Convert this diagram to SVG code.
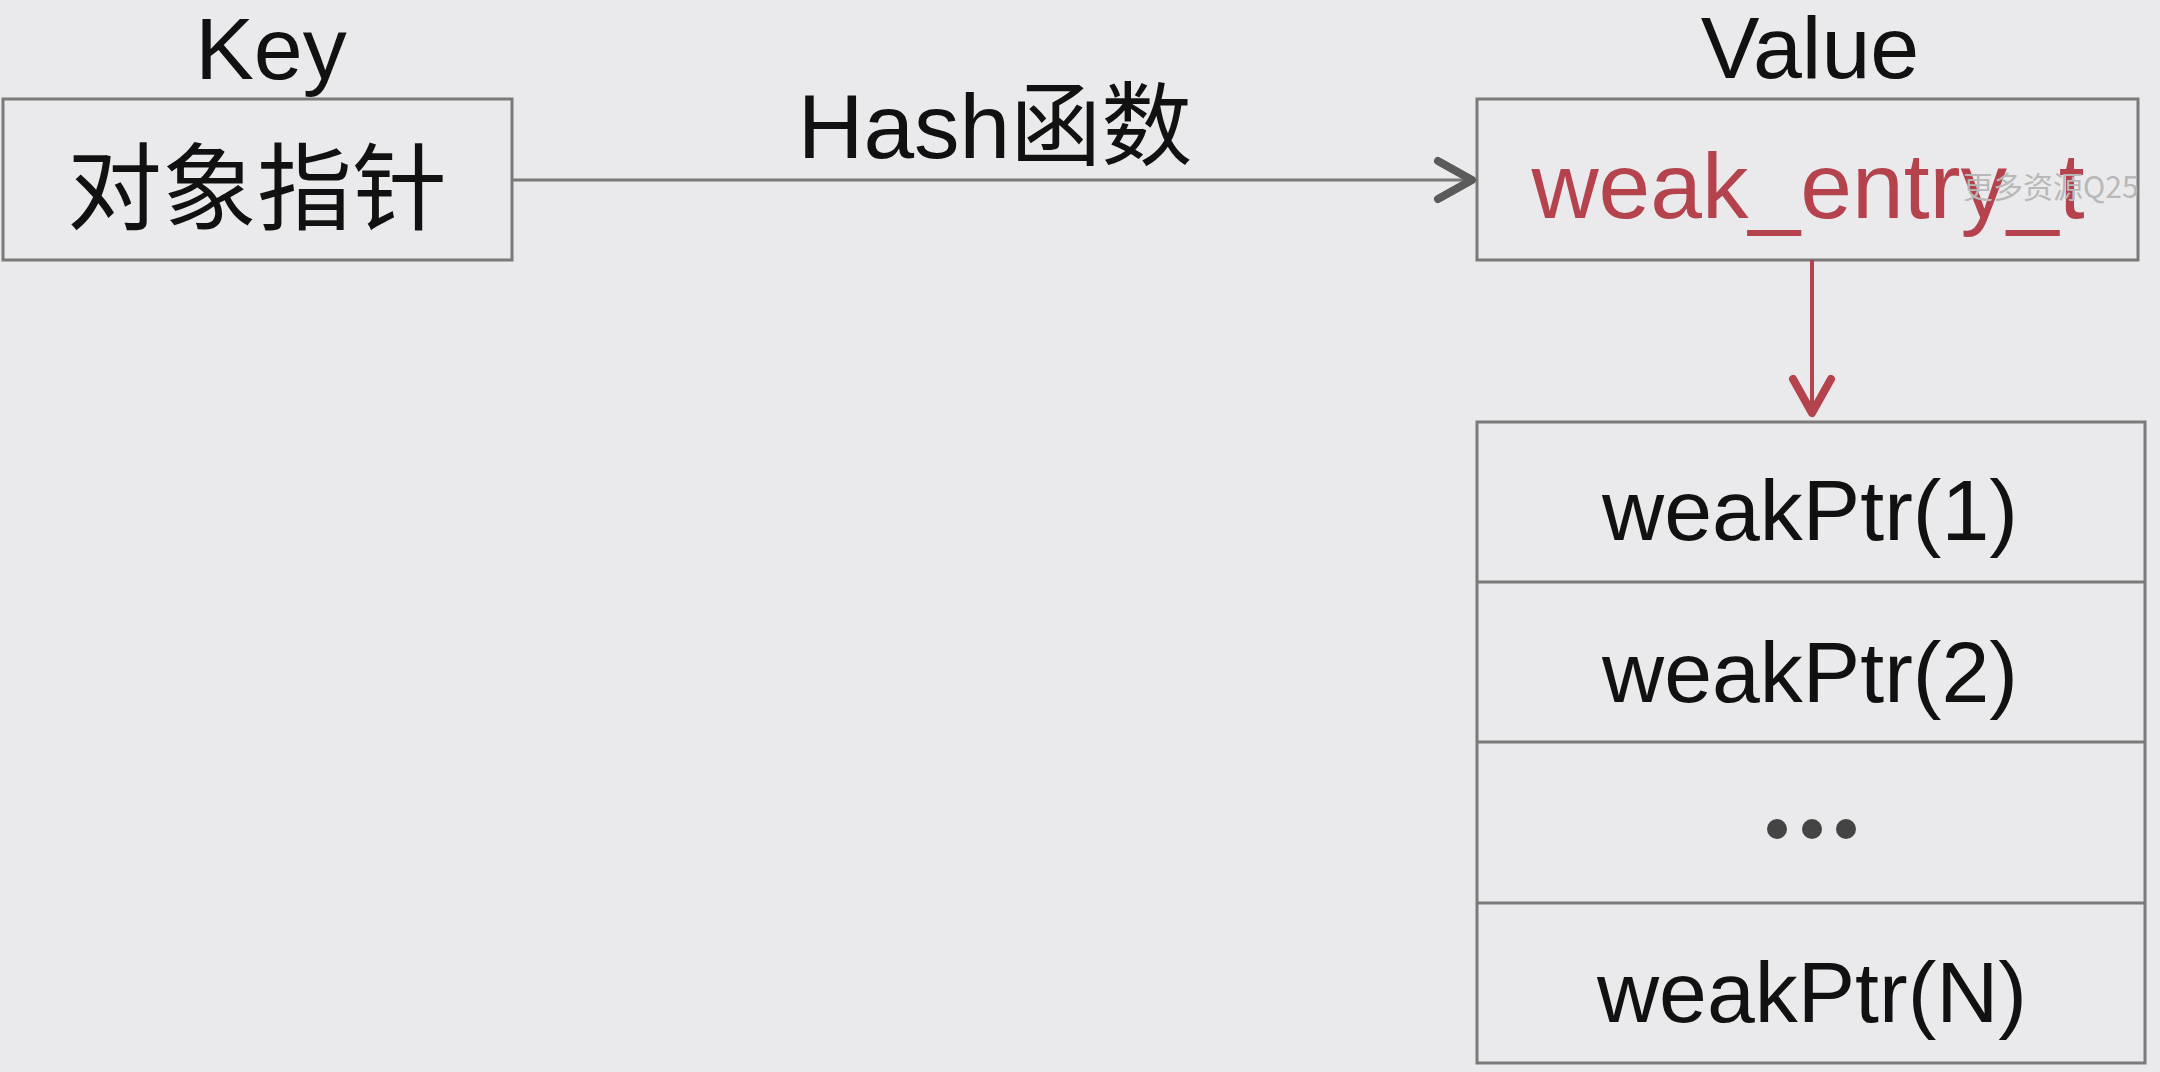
<svg xmlns="http://www.w3.org/2000/svg" width="2160" height="1072" viewBox="0 0 2160 1072">
<defs>
<style>
.bg{fill:#eaeaec}
.box{fill:none;stroke:#7a7a7a;stroke-width:3}
.t{font-family:"Liberation Sans","Noto Sans CJK SC",Arial,sans-serif;fill:#111}
.title{font-size:88px;text-anchor:middle}
.row{font-size:86px;text-anchor:middle}
.red{fill:#b5434e}
</style>
<marker id="arrGray" viewBox="0 0 44 48" refX="40" refY="24" markerWidth="44" markerHeight="48" markerUnits="userSpaceOnUse" orient="auto">
<path d="M5,5 L39,24 L5,43" fill="none" stroke="#5a5a5a" stroke-width="8" stroke-linecap="round" stroke-linejoin="round"/>
</marker>
<marker id="arrRed" viewBox="0 0 44 48" refX="40" refY="24" markerWidth="44" markerHeight="48" markerUnits="userSpaceOnUse" orient="auto">
<path d="M5,5 L39,24 L5,43" fill="none" stroke="#b5434e" stroke-width="8" stroke-linecap="round" stroke-linejoin="round"/>
</marker>
</defs>
<rect class="bg" x="0" y="0" width="2160" height="1072"/>

<g id="key-label"><text class="t title" x="271" y="79">Key</text></g>
<g id="value-label"><text class="t title" x="1810" y="78">Value</text></g>

<g id="key-node">
<rect class="box" x="3" y="99" width="509" height="161"/>
<text class="t" x="257" y="190" font-size="95" text-anchor="middle" dominant-baseline="central">对象指针</text>
</g>

<g id="value-node">
<rect class="box" x="1477" y="99" width="661" height="161"/>
<text class="t red" x="1808" y="218" font-size="93" text-anchor="middle">weak_entry_t</text>
<text x="1963" y="198" font-family="'Noto Sans CJK SC','Liberation Sans',sans-serif" font-size="30" fill="#b8b8b8">更多资源Q25</text>
</g>

<g id="list-node">
<rect class="box" x="1477" y="422" width="668" height="641"/>
<line class="box" x1="1477" y1="582" x2="2145" y2="582"/>
<line class="box" x1="1477" y1="742" x2="2145" y2="742"/>
<line class="box" x1="1477" y1="903" x2="2145" y2="903"/>
<text class="t row" x="1810" y="540">weakPtr(1)</text>
<text class="t row" x="1810" y="702">weakPtr(2)</text>
<circle cx="1777" cy="829" r="10" fill="#444"/>
<circle cx="1812" cy="829" r="10" fill="#444"/>
<circle cx="1846" cy="829" r="10" fill="#444"/>
<text class="t row" x="1812" y="1022">weakPtr(N)</text>
</g>

<g id="connectors">
<line x1="512" y1="180" x2="1473" y2="180" stroke="#7a7a7a" stroke-width="3" marker-end="url(#arrGray)"/>
<text class="t" x="995" y="158" font-size="91" text-anchor="middle">Hash函数</text>
<line x1="1812" y1="260" x2="1812" y2="414" stroke="#b5434e" stroke-width="4" marker-end="url(#arrRed)"/>
</g>
</svg>
